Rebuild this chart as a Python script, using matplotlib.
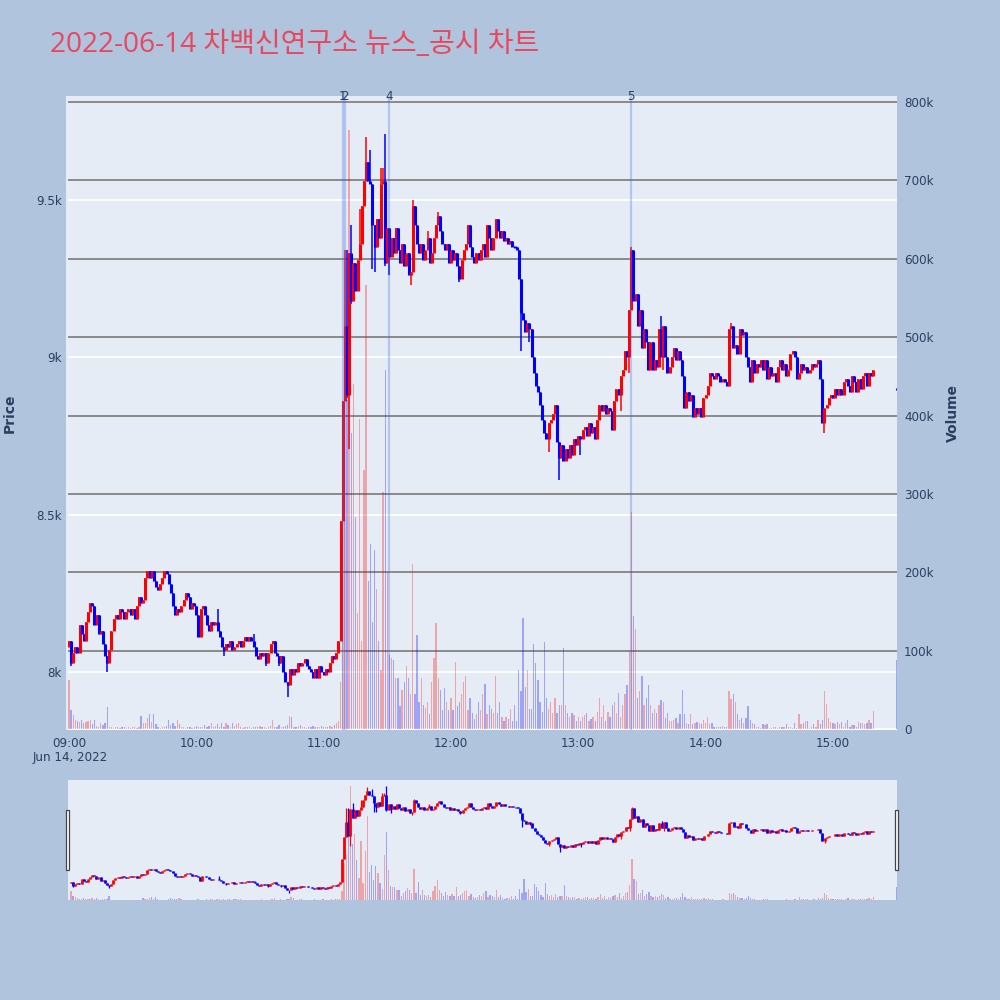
import numpy as np
import matplotlib
matplotlib.use('Agg')
import matplotlib.pyplot as plt
import matplotlib.transforms as mtransforms
from matplotlib.patches import Rectangle

plt.rcParams['font.family'] = ['Open Sans', 'Noto Sans CJK KR', 'DejaVu Sans']

# ---------------- data ----------------
TITLE = '2022-06-14 차백신연구소 뉴스_공시 차트'
DATE_LABEL = 'Jun 14, 2022'
HOUR_MINUTES = [0, 60, 120, 180, 240, 300, 360]          # minutes after 09:00
HOUR_LABELS = ['09:00', '10:00', '11:00', '12:00', '13:00', '14:00', '15:00']
PRICE_TICKS = [8000, 8500, 9000, 9500]
PRICE_TICK_LABELS = ['8k', '8.5k', '9k', '9.5k']
VOLUME_TICKS_K = [0, 100, 200, 300, 400, 500, 600, 700, 800]
VOLUME_TICK_LABELS = ['0', '100k', '200k', '300k', '400k', '500k', '600k', '700k', '800k']

OPEN_FIRST = 8080
# 1-minute closes, 09:00 .. 15:19
CLOSE = [
    8100, 8030, 8060, 8080, 8060, 8150, 8120, 8100, 8160, 8190,
    8220, 8210, 8150, 8180, 8120, 8130, 8090, 8050, 8030, 8070,
    8130, 8170, 8180, 8170, 8200, 8190, 8170, 8190, 8200, 8180,
    8200, 8170, 8210, 8240, 8220, 8230, 8300, 8320, 8300, 8320,
    8290, 8270, 8260, 8280, 8300, 8320, 8310, 8280, 8250, 8210,
    8180, 8200, 8190, 8210, 8230, 8250, 8240, 8200, 8220, 8210,
    8180, 8110, 8200, 8210, 8180, 8150, 8130, 8160, 8150, 8160,
    8130, 8110, 8080, 8070, 8090, 8080, 8100, 8070, 8080, 8090,
    8100, 8080, 8100, 8110, 8100, 8110, 8100, 8080, 8050, 8040,
    8060, 8050, 8060, 8030, 8060, 8090, 8100, 8060, 8050, 8030,
    8050, 8000, 7970, 7960, 8010, 7990, 8010, 8000, 8030, 8020,
    8030, 8040, 8020, 8010, 8000, 7980, 8010, 7980, 8020, 8000,
    7990, 8010, 8000, 8030, 8050, 8040, 8060, 8100, 8480, 8860,
    9100, 8880, 9330, 9180, 9300, 9210, 9310, 9360, 9480, 9560,
    9620, 9560, 9550, 9420, 9350, 9440, 9380, 9550, 9560, 9300,
    9410, 9320, 9380, 9330, 9410, 9340, 9300, 9360, 9290, 9330,
    9260, 9270, 9480, 9420, 9360, 9330, 9360, 9310, 9340, 9380,
    9300, 9330, 9380, 9420, 9450, 9400, 9360, 9340, 9360, 9300,
    9340, 9310, 9330, 9290, 9250, 9310, 9340, 9360, 9420, 9350,
    9320, 9300, 9330, 9310, 9340, 9360, 9320, 9420, 9380, 9340,
    9380, 9440, 9400, 9380, 9400, 9370, 9380, 9360, 9370, 9350,
    9350, 9340, 9250, 9140, 9120, 9080, 9110, 9090, 9000, 8950,
    8910, 8890, 8850, 8800, 8760, 8740, 8790, 8800, 8820, 8850,
    8730, 8680, 8720, 8670, 8710, 8680, 8720, 8690, 8740, 8720,
    8750, 8740, 8770, 8780, 8750, 8790, 8760, 8780, 8740, 8800,
    8850, 8830, 8850, 8820, 8840, 8830, 8770, 8860, 8900, 8880,
    8940, 8960, 9020, 9000, 9150, 9340, 9180, 9200, 9100, 9150,
    9030, 9090, 9050, 8960, 9050, 8960, 8990, 8970, 9090, 9000,
    9100, 9000, 8950, 8970, 9000, 9030, 8990, 9020, 8990, 8940,
    8840, 8890, 8860, 8880, 8810, 8840, 8820, 8840, 8810, 8870,
    8880, 8910, 8950, 8940, 8930, 8950, 8940, 8920, 8930, 8920,
    8910, 9090, 9100, 9030, 9040, 9010, 9090, 9070, 9080, 9000,
    8970, 8920, 8990, 8950, 8980, 8970, 8990, 8960, 8990, 8930,
    8970, 8940, 8950, 8920, 8970, 8990, 8960, 8980, 8940, 8960,
    9010, 9020, 9000, 8930, 8950, 8980, 8960, 8970, 8950, 8960,
    8980, 8970, 8980, 8990, 8930, 8790, 8840, 8850, 8870, 8880,
    8870, 8900, 8880, 8900, 8880, 8920, 8930, 8910, 8890, 8940,
    8920, 8890, 8930, 8900, 8940, 8950, 8910, 8950, 8940, 8960,
]
# wicks beyond the candle body (minute: price)
WICK_HIGH = {70: 8200, 87: 8120, 130: 9340, 131: 9340, 133: 9420, 137: 9470,
             140: 9700, 142: 9660, 147: 9600, 148: 9600, 149: 9710, 162: 9500,
             169: 9400, 174: 9460, 265: 9350, 266: 9270, 279: 9130, 312: 9110}
WICK_LOW = {1: 8020, 18: 8000, 73: 8050, 93: 8020, 99: 8020, 103: 7920,
            131: 8870, 132: 8710, 133: 9170, 143: 9280, 144: 9270, 149: 9290,
            151: 9260, 161: 9230, 184: 9240, 213: 9020, 217: 9050, 226: 8700,
            231: 8610, 241: 8690, 260: 8830, 264: 8950, 280: 8960, 356: 8760}
# 1-minute volume in thousands, 09:00 .. 15:19
VOLUME_K = [
    63, 24, 18, 12, 10, 9, 12, 8, 9, 10,
    11, 6, 12, 4, 3, 7, 5, 8, 28, 3,
    2, 1, 3, 2, 1, 2, 3, 1, 2, 1,
    2, 3, 1, 2, 16, 8, 7, 14, 19, 9,
    19, 6, 2, 1, 3, 2, 4, 12, 5, 8,
    4, 12, 6, 3, 2, 1, 2, 3, 1, 2,
    4, 2, 3, 2, 5, 3, 4, 7, 2, 4,
    6, 3, 7, 2, 7, 5, 3, 7, 4, 6,
    8, 2, 1, 2, 3, 2, 1, 2, 3, 2,
    4, 3, 2, 1, 3, 4, 12, 3, 2, 5,
    2, 3, 4, 5, 17, 15, 3, 2, 4, 5,
    3, 2, 1, 3, 2, 4, 2, 3, 2, 4,
    3, 2, 3, 4, 2, 5, 8, 10, 60, 250,
    300, 420, 764, 378, 440, 270, 148, 396, 112, 331,
    566, 189, 236, 137, 228, 179, 112, 75, 303, 458,
    200, 94, 90, 88, 65, 65, 29, 50, 60, 80,
    65, 45, 210, 44, 120, 34, 65, 31, 27, 34,
    19, 60, 91, 135, 65, 50, 24, 52, 34, 24,
    39, 24, 86, 29, 34, 44, 60, 68, 24, 39,
    21, 13, 19, 34, 24, 44, 57, 19, 31, 26,
    21, 68, 20, 34, 15, 10, 15, 13, 25, 10,
    30, 10, 75, 49, 141, 53, 75, 25, 25, 108,
    84, 63, 34, 22, 111, 39, 25, 34, 20, 39,
    20, 30, 30, 103, 30, 20, 15, 20, 18, 10,
    15, 10, 15, 18, 20, 10, 13, 15, 10, 22,
    39, 15, 30, 10, 22, 15, 30, 34, 20, 46,
    15, 30, 44, 56, 99, 277, 144, 127, 39, 49,
    68, 30, 39, 56, 30, 20, 25, 20, 30, 37,
    34, 14, 21, 10, 10, 12, 14, 8, 19, 50,
    19, 8, 6, 19, 6, 8, 9, 8, 6, 12,
    8, 15, 6, 8, 3, 2, 3, 2, 4, 3,
    2, 48, 38, 45, 34, 19, 12, 14, 8, 14,
    29, 12, 8, 6, 3, 2, 1, 6, 5, 6,
    1, 1, 3, 2, 1, 3, 3, 3, 6, 3,
    2, 1, 8, 1, 19, 6, 8, 10, 10, 1,
    3, 6, 3, 11, 6, 12, 48, 32, 14, 9,
    8, 6, 9, 6, 9, 2, 8, 11, 3, 5,
    5, 3, 9, 8, 8, 6, 8, 12, 8, 23,
]
# closing auction at 15:30
AUCTION_MINUTE = 390
AUCTION_PRICE = 8900
AUCTION_VOLUME_K = 88
# news / disclosure markers
EVENT_LABELS = ['1', '2', '4', '5']
EVENT_MINUTES = [129, 130, 151, 265]

# ---------------- assemble OHLC ----------------
minutes = np.append(np.arange(len(CLOSE)), AUCTION_MINUTE).astype(float)
close = np.array(CLOSE + [AUCTION_PRICE], dtype=float)
opn = np.array([OPEN_FIRST] + CLOSE[:-1] + [AUCTION_PRICE], dtype=float)
high = np.maximum(opn, close)
low = np.minimum(opn, close)
for m, h in WICK_HIGH.items():
    high[m] = max(high[m], h)
for m, l in WICK_LOW.items():
    low[m] = min(low[m], l)
volume = np.array(VOLUME_K + [AUCTION_VOLUME_K], dtype=float) * 1000
up = close > opn
candle_colors = np.where(up, '#FF0000', '#0000FF')

# ---------------- styling constants ----------------
BG = '#B0C4DE'
PLOT_BG = '#E5ECF6'
TXT = '#2a3f5f'
TICK_FONT = 'DejaVu Sans'
XMIN, XMAX = -1.4, 390.2
PMIN, PMAX = 7816, 9830
VMIN, VMAX = -1300, 807700


def draw_candles(a, body_lw, wick_lw):
    a.vlines(minutes, low, high, colors=candle_colors, lw=wick_lw, zorder=2)
    b_lo = np.minimum(opn, close)
    b_hi = np.maximum(opn, close)
    flat = (b_hi - b_lo) < 8
    b_lo = np.where(flat, b_lo - 4, b_lo)
    b_hi = np.where(flat, b_hi + 4, b_hi)
    a.vlines(minutes, b_lo, b_hi, colors=candle_colors, lw=body_lw, zorder=2.1)


def draw_volume(a, width):
    vol_colors = [(1, 0, 0, 0.3) if u else (0, 0, 1, 0.3) for u in up]
    a.bar(minutes, volume, width=width, color=vol_colors, linewidth=0, zorder=2)


fig = plt.figure(figsize=(10, 10), dpi=100)
fig.patch.set_facecolor(BG)

# ---------------- main chart ----------------
ax = fig.add_axes([0.066, 0.27, 0.831, 0.634])
ax.set_facecolor(PLOT_BG)
for s in ax.spines.values():
    s.set_visible(False)
ax.set_xlim(XMIN, XMAX)
ax.set_ylim(PMIN, PMAX)

x0 = 3 / 831
for p in PRICE_TICKS:
    ax.axhline(p, color='white', lw=1.3, zorder=0.8, xmin=x0)
for v in VOLUME_TICKS_K:
    p = PMIN + (v * 1000 - VMIN) / (VMAX - VMIN) * (PMAX - PMIN)
    if v == 0:
        ax.axhline(p, color='white', lw=1.8, zorder=0.85, xmin=x0)
    else:
        ax.axhline(p, color='#8a8a8a', lw=1.4, zorder=0.9, xmin=x0)

draw_candles(ax, 2.2, 1.1)

for m in EVENT_MINUTES:
    ax.axvline(m, color='royalblue', alpha=0.3, lw=1.6, zorder=3)
trans = mtransforms.blended_transform_factory(ax.transData, ax.transAxes)
for lab, m in zip(EVENT_LABELS, EVENT_MINUTES):
    ax.text(m, 0.999, lab, transform=trans, ha='center', va='center', family=TICK_FONT,
            fontsize=8.6, color=TXT, zorder=5, clip_on=False)

ax.set_yticks(PRICE_TICKS)
ax.set_yticklabels(PRICE_TICK_LABELS, family=TICK_FONT)
ax.set_xticks(HOUR_MINUTES)
ax.set_xticklabels(HOUR_LABELS, family=TICK_FONT)
ax.tick_params(axis='y', length=0, pad=3, labelsize=8.6, labelcolor=TXT)
ax.tick_params(axis='x', length=0, pad=5, labelsize=8.6, labelcolor=TXT)

ax2 = ax.twinx()
for s in ax2.spines.values():
    s.set_visible(False)
ax2.set_ylim(VMIN, VMAX)
draw_volume(ax2, 0.6)
ax2.set_yticks([v * 1000 for v in VOLUME_TICKS_K])
ax2.set_yticklabels(VOLUME_TICK_LABELS, family=TICK_FONT)
ax2.tick_params(axis='y', length=0, pad=5, labelsize=8.6, labelcolor=TXT)
ax2.set_xlim(XMIN, XMAX)

fig.text(0.070, 1 - 0.757, DATE_LABEL, ha='center', va='center', family=TICK_FONT,
         fontsize=8.6, color=TXT)
fig.text(0.010, 1 - 0.413, 'Price', rotation=90, ha='center', va='center', family=TICK_FONT,
         fontsize=10, fontweight='bold', color=TXT)
fig.text(0.953, 1 - 0.413, 'Volume', rotation=90, ha='center', va='center', family=TICK_FONT,
         fontsize=10, fontweight='bold', color=TXT)
fig.text(0.050, 1 - 0.052, TITLE, ha='left', va='baseline', fontsize=20.2, color='#E8485E')

# ---------------- range slider ----------------
axs = fig.add_axes([0.068, 0.10, 0.829, 0.12])
axs.set_facecolor(PLOT_BG)
for s in axs.spines.values():
    s.set_visible(False)
axs.set_xlim(XMIN, XMAX)
axs.set_ylim(7800, 9810)
axs.set_xticks([])
axs.set_yticks([])
draw_candles(axs, 2.0, 0.9)
axs2 = axs.twinx()
for s in axs2.spines.values():
    s.set_visible(False)
axs2.set_ylim(0, 804000)
axs2.set_yticks([])
draw_volume(axs2, 0.6)
axs2.set_xlim(XMIN, XMAX)

for hx in (0.0655, 0.8945):
    fig.patches.append(Rectangle((hx, 0.13), 0.0035, 0.06, transform=fig.transFigure,
                                 facecolor='white', edgecolor='#444444', lw=0.9, zorder=10))

fig.savefig('out.png', dpi=100, facecolor=BG)
